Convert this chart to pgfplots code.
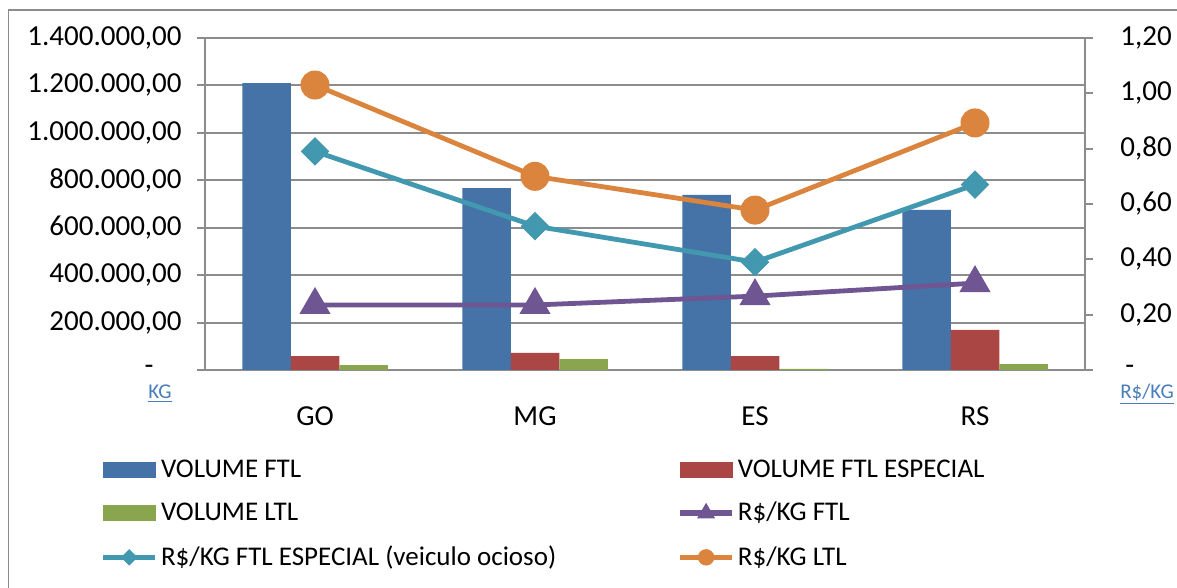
\documentclass[border=0pt]{standalone}
\usepackage{pgfplots}
\pgfplotsset{compat=1.18}
\usepackage{fontspec}
\setmainfont{Carlito}
\definecolor{cBlue}{HTML}{4572A7}
\definecolor{cRed}{HTML}{AA4643}
\definecolor{cGreen}{HTML}{89A54E}
\definecolor{cPurple}{HTML}{6F5592}
\definecolor{cTeal}{HTML}{4198AF}
\definecolor{cOrange}{HTML}{DB843D}
\definecolor{cGrid}{HTML}{8C8C8C}
\definecolor{cLink}{HTML}{4A7EBB}
\begin{document}
\begin{tikzpicture}
\pgfplotsset{
  common/.style={scale only axis, width=440pt, height=166pt,
    at={(102.5pt,109pt)}, anchor=south west,
    xmin=-0.5, xmax=3.5, clip=false,
    axis line style={cGrid, line width=1pt},
    tick align=outside, major tick length=4pt,
    ytick style={cGrid, line width=1pt},
    scaled y ticks=false},
  lineleg/.style={legend image code/.code={%
    \draw[mark repeat=2, mark phase=2, ##1, line width=2.8pt, /tikz/every mark/.append style={scale=0.55}]
      plot coordinates {(0pt,0pt) (13pt,0pt) (26pt,0pt)};}},
}
\begin{axis}[common,
  ybar=0pt, bar width=24.25pt,
  ymin=0, ymax=1400000,
  ytick={0,200000,400000,600000,800000,1000000,1200000,1400000},
  yticklabels={{-\kern14pt},{200.000,00},{400.000,00},{600.000,00},{800.000,00},{1.000.000,00},{1.200.000,00},{1.400.000,00}},
  axis x line*=bottom, axis y line*=left,
  xtick={0,1,2,3}, xticklabels={GO,MG,ES,RS},
  xtick style={draw=none},
  ymajorgrids, grid style={cGrid, line width=1pt},
  yticklabel style={font=\fontsize{14.5}{17}\selectfont, inner sep=0pt, xshift=-7.5pt},
  xticklabel style={font=\fontsize{14.5}{17}\selectfont, inner sep=0pt, yshift=-14pt},
]
\addplot[fill=cBlue, draw=none] coordinates {(0,1210000) (1,767000) (2,738000) (3,675000)};
\addplot[fill=cRed, draw=none] coordinates {(0,59000) (1,72000) (2,59000) (3,169000)};
\addplot[fill=cGreen, draw=none] coordinates {(0,21000) (1,46000) (2,5000) (3,25000)};
\node[text=cLink, font=\fontsize{10.5}{12}\selectfont, inner sep=0pt] at (rel axis cs:0,0) [xshift=-22.5pt, yshift=-12pt] {\underline{KG}};
\end{axis}
\begin{axis}[common,
  axis x line=none, axis y line*=right,
  ymin=0, ymax=1.2,
  ytick={0,0.2,0.4,0.6,0.8,1.0,1.2},
  yticklabels={{\kern2.5pt-},{0,20},{0,40},{0,60},{0,80},{1,00},{1,20}},
  yticklabel style={font=\fontsize{14.5}{17}\selectfont, inner sep=0pt, xshift=13.5pt, anchor=west},
  legend columns=2,
  legend cell align=left,
  legend style={at={(rel axis cs:-0.1193,-0.26)}, anchor=north west, draw=none, fill=none,
    inner sep=0pt, font=\fontsize{13.5}{16}\selectfont, row sep=8pt,
    nodes={inner sep=1.5pt},
    /tikz/every even column/.append style={column sep=59pt}},
]
\addlegendimage{legend image code/.code={\fill[cBlue] (0pt,-3.75pt) rectangle (26pt,3.75pt);}}
\addlegendentry{VOLUME FTL}
\addlegendimage{legend image code/.code={\fill[cRed] (0pt,-3.75pt) rectangle (26pt,3.75pt);}}
\addlegendentry{VOLUME FTL ESPECIAL}
\addlegendimage{legend image code/.code={\fill[cGreen] (0pt,-3.75pt) rectangle (26pt,3.75pt);}}
\addlegendentry{VOLUME LTL}
\addplot[lineleg, cPurple, line width=2.4pt, mark=triangle*, mark size=8.5pt, mark options={fill=cPurple, draw=cPurple, line width=0.5pt}]
  coordinates {(0,0.235) (1,0.235) (2,0.267) (3,0.314)};
\addlegendentry{R\$/KG FTL}
\addplot[lineleg, cTeal, line width=2.4pt, mark=square*, mark size=4.8pt, mark options={rotate=45, fill=cTeal, draw=cTeal, line width=0.5pt}]
  coordinates {(0,0.79) (1,0.52) (2,0.39) (3,0.67)};
\addlegendentry{R\$/KG FTL ESPECIAL (veiculo ocioso)}
\addplot[lineleg, cOrange, line width=2.4pt, mark=*, mark size=7pt, mark options={fill=cOrange, draw=cOrange, line width=0.5pt}]
  coordinates {(0,1.03) (1,0.70) (2,0.578) (3,0.893)};
\addlegendentry{R\$/KG LTL}
\node[text=cLink, font=\fontsize{10.5}{12}\selectfont, inner sep=0pt] at (rel axis cs:1,0) [xshift=31pt, yshift=-12pt] {\underline{R\$/KG}};
\end{axis}
\draw[cGrid, line width=0.75pt] (4.25pt,-10pt) rectangle (600pt,289pt);
\pgfresetboundingbox
\path[use as bounding box] (0pt,0pt) rectangle (588.5pt,294pt);
\end{tikzpicture}
\end{document}
